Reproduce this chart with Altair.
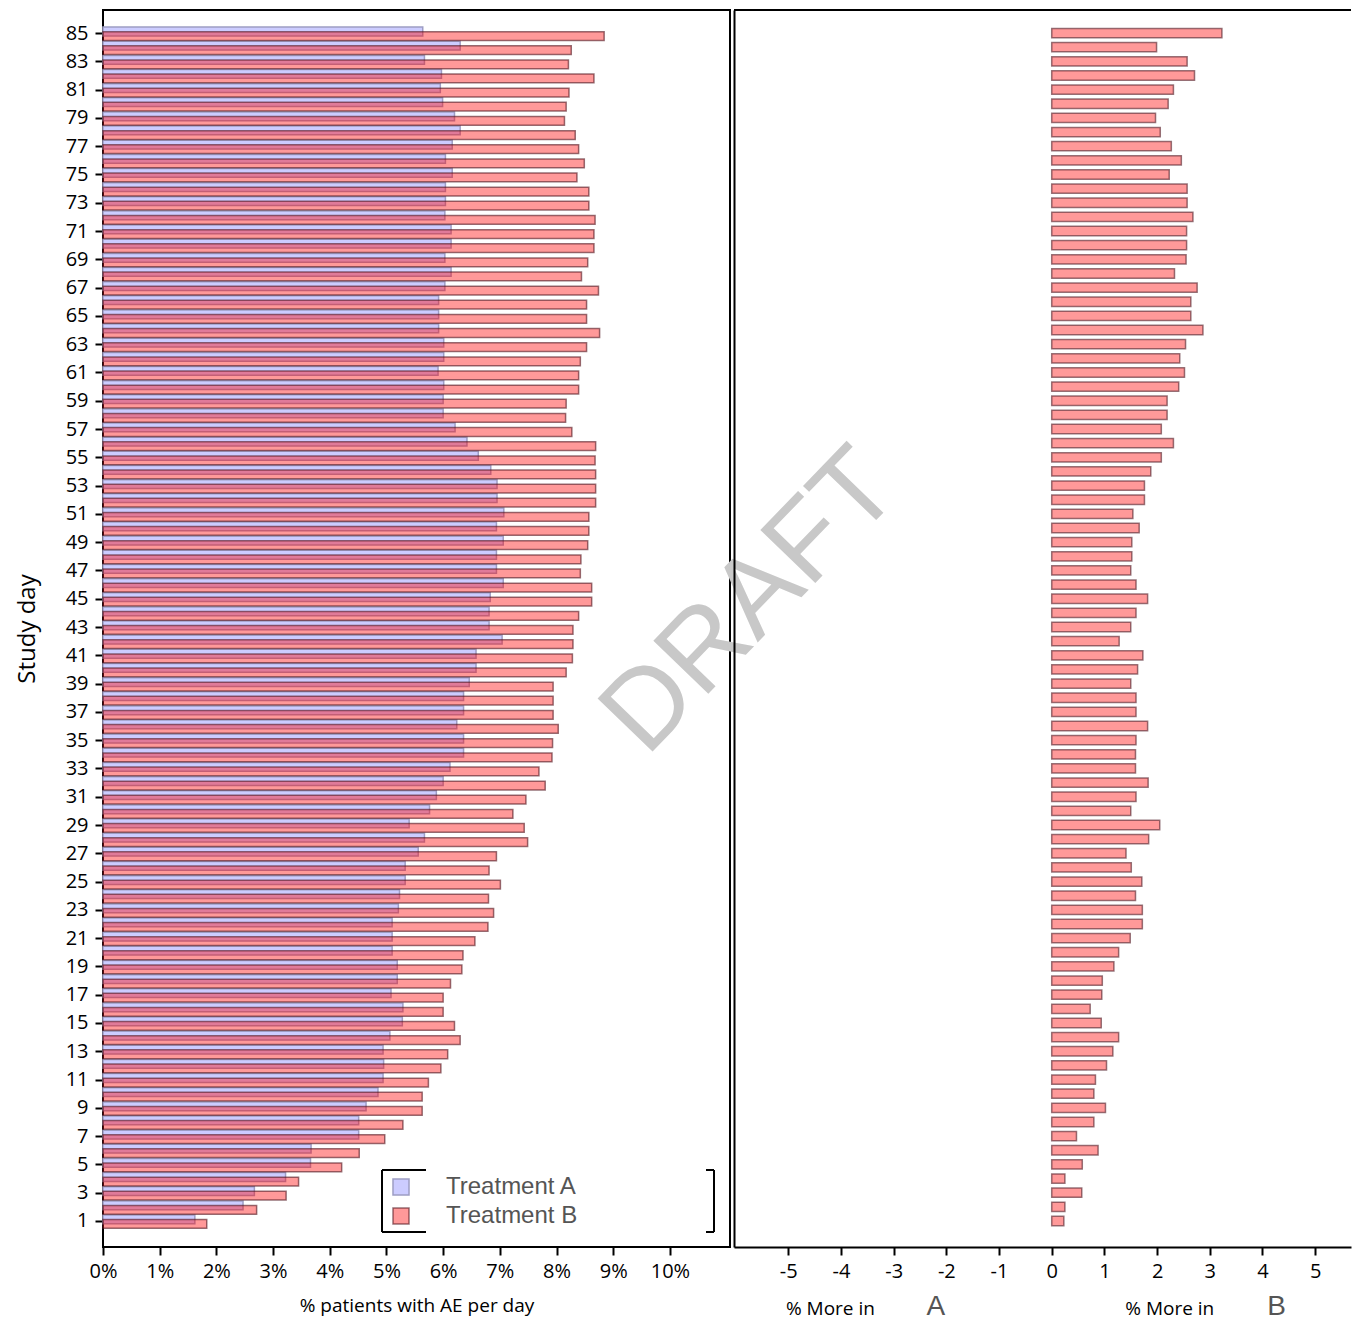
import altair as alt
import pandas as pd

DAYS = list(range(1, 86))
SERIES = ["Treatment A", "Treatment B"]

TREAT_A = [1.62, 2.47, 2.67, 3.22, 3.66, 3.67, 4.51, 4.51, 4.64, 4.85,
           4.94, 4.95, 4.94, 5.06, 5.28, 5.29, 5.08, 5.19, 5.19, 5.10,
           5.10, 5.10, 5.21, 5.23, 5.33, 5.33, 5.56, 5.67, 5.40, 5.76,
           5.88, 6.00, 6.12, 6.36, 6.36, 6.24, 6.36, 6.36, 6.46, 6.58,
           6.58, 7.04, 6.81, 6.81, 6.83, 7.06, 6.94, 6.94, 7.06, 6.94,
           7.07, 6.95, 6.95, 6.84, 6.62, 6.42, 6.21, 6.00, 6.00, 6.01,
           5.91, 6.01, 6.01, 5.92, 5.92, 5.92, 6.03, 6.14, 6.03, 6.14,
           6.14, 6.03, 6.04, 6.04, 6.16, 6.04, 6.16, 6.30, 6.20, 5.99,
           5.95, 5.97, 5.67, 6.30, 5.64]

TREAT_B = [1.83, 2.71, 3.23, 3.45, 4.21, 4.52, 4.97, 5.29, 5.63, 5.63,
           5.74, 5.96, 6.08, 6.30, 6.20, 6.00, 6.00, 6.13, 6.33, 6.35,
           6.56, 6.79, 6.89, 6.80, 7.01, 6.81, 6.94, 7.49, 7.43, 7.23,
           7.46, 7.80, 7.69, 7.92, 7.93, 8.03, 7.94, 7.94, 7.94, 8.17,
           8.28, 8.29, 8.29, 8.39, 8.62, 8.62, 8.42, 8.43, 8.55, 8.57,
           8.57, 8.69, 8.69, 8.69, 8.68, 8.69, 8.27, 8.16, 8.17, 8.39,
           8.39, 8.42, 8.53, 8.76, 8.53, 8.53, 8.74, 8.44, 8.55, 8.66,
           8.66, 8.68, 8.57, 8.57, 8.36, 8.49, 8.39, 8.33, 8.14, 8.17,
           8.22, 8.66, 8.21, 8.26, 8.84]

DIFF_B_MINUS_A = [0.23, 0.25, 0.57, 0.25, 0.58, 0.88, 0.47, 0.80, 1.02, 0.80,
                  0.83, 1.04, 1.16, 1.27, 0.94, 0.73, 0.95, 0.96, 1.18, 1.27,
                  1.49, 1.72, 1.72, 1.59, 1.71, 1.51, 1.41, 1.84, 2.05, 1.50,
                  1.60, 1.83, 1.59, 1.59, 1.60, 1.82, 1.60, 1.60, 1.50, 1.63,
                  1.73, 1.28, 1.50, 1.60, 1.82, 1.60, 1.50, 1.52, 1.52, 1.66,
                  1.54, 1.76, 1.76, 1.88, 2.08, 2.31, 2.08, 2.19, 2.19, 2.41,
                  2.52, 2.43, 2.54, 2.87, 2.64, 2.64, 2.76, 2.33, 2.55, 2.56,
                  2.56, 2.68, 2.57, 2.57, 2.23, 2.46, 2.27, 2.06, 1.97, 2.21,
                  2.31, 2.71, 2.57, 1.99, 3.23]

Y_TICKS = list(range(1, 86, 2))
X_TICKS_LEFT = list(range(0, 11))
X_TICKS_RIGHT = list(range(-5, 6))

LEFT_W, RIGHT_W, H = 627, 617, 1237
Y_DOMAIN = [-0.84, 86.63]

long_df = pd.DataFrame({
    "day": DAYS * 2,
    "treatment": [SERIES[0]] * len(DAYS) + [SERIES[1]] * len(DAYS),
    "pct": TREAT_A + TREAT_B,
})
diff_df = pd.DataFrame({"day": DAYS, "diff": DIFF_B_MINUS_A})
one = pd.DataFrame({"k": [0]})

legend = alt.Legend(
    title=None, orient="none", legendX=286, legendY=1165,
    symbolType="square", symbolSize=256, symbolStrokeWidth=1.5,
    labelFont="Liberation Sans", labelFontSize=24, labelColor="#555555",
    labelOffset=33, rowPadding=5, padding=0,
)

y_scale = alt.Scale(domain=Y_DOMAIN, nice=False, zero=False)

bars = alt.Chart(long_df).transform_calculate(
    y_lo="datum.treatment == 'Treatment A' ? datum.day - 0.2 : datum.day - 0.52",
    y_hi="datum.treatment == 'Treatment A' ? datum.day + 0.42 : datum.day + 0.1",
).mark_rect(strokeWidth=1.5).encode(
    x=alt.X("pct:Q", scale=alt.Scale(domain=[0, 11.06], nice=False, zero=True),
            axis=alt.Axis(values=X_TICKS_LEFT, labelExpr="datum.value + '%'",
                          title="% patients with AE per day", labelPadding=6,
                          titlePadding=15)),
    x2=alt.datum(0),
    y=alt.Y("y_lo:Q", scale=y_scale,
            axis=alt.Axis(values=Y_TICKS, title="Study day", labelPadding=7,
                          titlePadding=26, titleFontSize=24)),
    y2="y_hi:Q",
    fill=alt.Fill("treatment:N", scale=alt.Scale(domain=SERIES, range=["#ccccff", "rgba(255,0,0,0.4)"]),
                  legend=legend),
    stroke=alt.Stroke("treatment:N", scale=alt.Scale(domain=SERIES, range=["#9d9dc4", "rgba(80,20,30,0.6)"]),
                      legend=legend),
)

def rule(x, x2, y, y2):
    return alt.Chart(one).mark_rule(color="black", strokeWidth=2).encode(
        x=alt.value(x), x2=alt.value(x2), y=alt.value(y), y2=alt.value(y2))

brackets = [
    rule(279, 279, 1160, 1222), rule(279, 323, 1160, 1160), rule(279, 323, 1222, 1222),
    rule(611, 611, 1160, 1222), rule(603, 611, 1160, 1160), rule(603, 611, 1222, 1222),
]

draft = alt.Chart(one).mark_text(
    text="DRAFT", angle=314, fontSize=111, font="Liberation Sans", color="#c8c8c8",
    align="center", baseline="middle",
).encode(x=alt.value(648), y=alt.value(592))

left = alt.layer(bars, *brackets, draft).properties(width=LEFT_W, height=H)

right_bars = alt.Chart(diff_df).transform_calculate(
    lo="datum.day - 0.33", hi="datum.day + 0.33"
).mark_rect(fill="#ff0000", fillOpacity=0.4, stroke="#501e28", strokeOpacity=0.6, strokeWidth=1.5).encode(
    x=alt.X("diff:Q", scale=alt.Scale(domain=[-6.03, 5.68], nice=False, zero=False),
            axis=alt.Axis(values=X_TICKS_RIGHT, labelExpr="datum.value + ''", title=None,
                          domain=True, domainColor="black", domainWidth=2, labelPadding=6)),
    x2=alt.datum(0),
    y=alt.Y("lo:Q", scale=y_scale,
            axis=alt.Axis(title=None, labels=False, ticks=False, domain=True,
                          domainColor="black", domainWidth=2)),
    y2="hi:Q",
)

top_line = rule(0, RIGHT_W, 0, 0)

def label(txt, xv, size, color, font, yv):
    return alt.Chart(one).mark_text(
        text=txt, fontSize=size, color=color, font=font, align="center", baseline="middle"
    ).encode(x=alt.datum(xv), y=alt.value(yv))

more_a = label("% More in", -4.2, 19, "black", "Open Sans", 1299)
a_txt = label("A", -2.2, 28, "#555555", "Liberation Sans", 1297)
more_b = label("% More in", 2.24, 19, "black", "Open Sans", 1299)
b_txt = label("B", 4.27, 28, "#555555", "Liberation Sans", 1297)

right = alt.layer(right_bars, top_line, more_a, a_txt, more_b, b_txt).properties(
    width=RIGHT_W, height=H, view=alt.ViewConfig(stroke="transparent"))

chart = alt.hconcat(left, right, spacing=4, bounds="flush").properties(
    padding={"left": 6, "top": 0, "right": 0, "bottom": 0}
).configure_view(stroke="black", strokeWidth=2).configure_axis(
    labelFont="Open Sans", labelFontSize=20, labelColor="black", labelFlush=False,
    titleFont="Open Sans", titleFontSize=19, titleFontWeight="normal", titleColor="black",
    tickColor="black", tickWidth=2, tickSize=8, grid=False, domain=False,
)

chart.save("out.html", embed_options={"renderer": "svg", "actions": False})
